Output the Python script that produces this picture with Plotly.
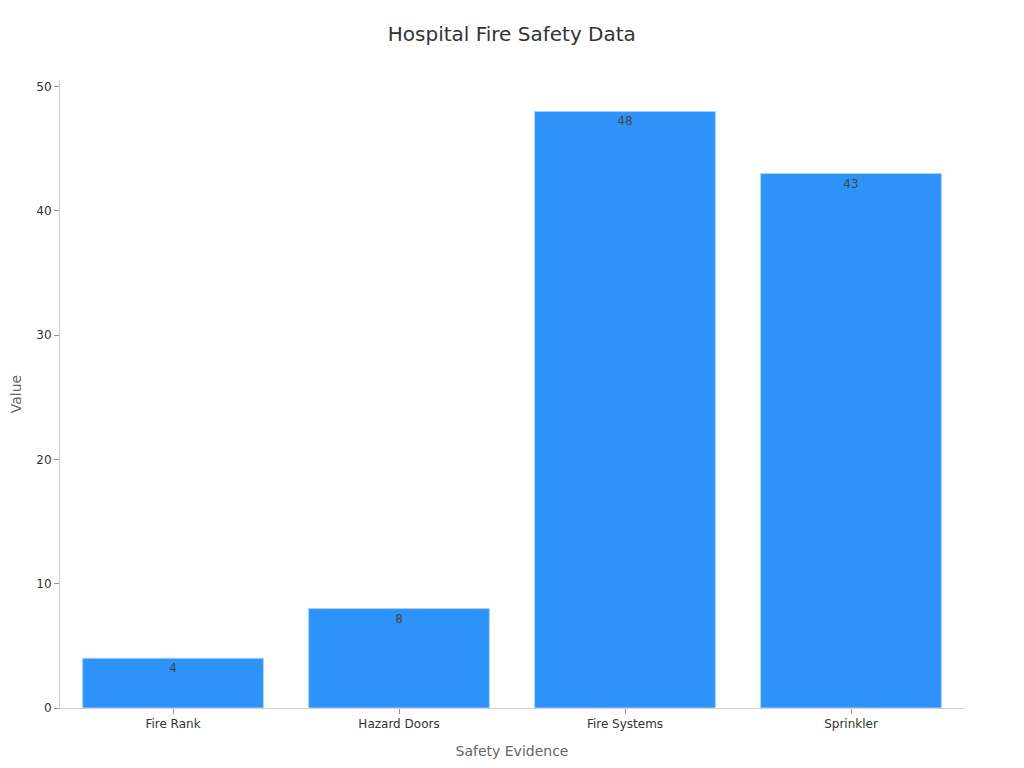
import plotly.graph_objects as go

categories = ["Fire Rank", "Hazard Doors", "Fire Systems", "Sprinkler"]
values = [4, 8, 48, 43]

fig = go.Figure()

fig.add_trace(go.Bar(
    x=categories,
    y=values,
    text=values,
    textposition="inside",
    insidetextanchor="end",
    textfont=dict(color="#444444", size=12),
    marker=dict(color="#2E93F8", line=dict(color="#A8D2FB", width=1)),
    width=0.8,
))

fig.update_layout(
    title=dict(text="Hospital Fire Safety Data", x=0.492, xanchor="center", y=0.975,
               font=dict(size=20, color="#333333")),
    font=dict(family="DejaVu Sans", size=12, color="#333333"),
    width=1024,
    height=768,
    margin=dict(l=52, r=68, t=72, b=68),
    plot_bgcolor="white",
    paper_bgcolor="white",
    showlegend=False,
    xaxis=dict(
        title=dict(text="Safety Evidence", font=dict(size=14, color="#666666"), standoff=15),
        showline=True, linecolor="#d0d0d0", linewidth=1,
        ticks="outside", tickcolor="#999999", ticklen=5,
        tickfont=dict(size=12, color="#333333"),
        automargin=False,
    ),
    yaxis=dict(
        title=dict(text="Value", font=dict(size=14, color="#666666"), standoff=22),
        showline=True, linecolor="#d0d0d0", linewidth=1,
        showgrid=False, zeroline=False,
        ticks="outside", tickcolor="#999999", ticklen=5,
        tickfont=dict(size=12, color="#333333"),
        dtick=10,
        automargin=False,
    ),
)

fig.write_html("out.html")
